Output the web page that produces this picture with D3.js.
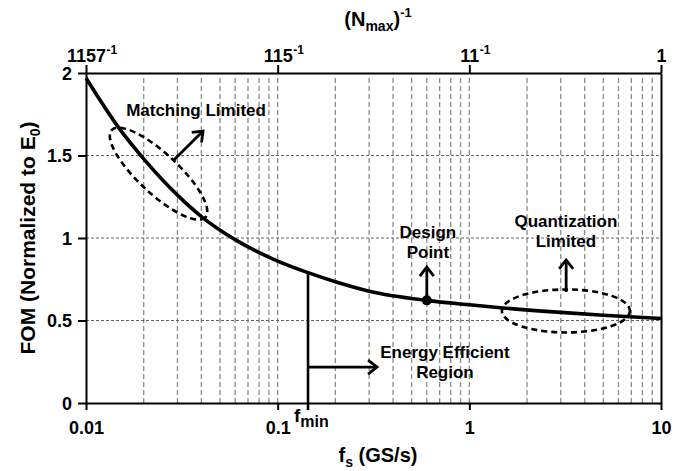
<!DOCTYPE html>
<html>
<head>
<meta charset="utf-8">
<script src="https://cdn.jsdelivr.net/npm/d3@7"></script>
<style>
  html, body { margin: 0; padding: 0; background: #fff; }
  svg text { font-family: "Liberation Sans", Arial, sans-serif; font-weight: bold; fill: #000; }
</style>
</head>
<body>
<svg id="chart" width="693" height="471"></svg>
<script>
// FOM (normalized to E0) versus sampling rate fs (GS/s)
const fsValues  = [0.01, 0.015, 0.02, 0.03, 0.04, 0.06, 0.1, 0.144, 0.2, 0.3, 0.6, 1, 1.5, 3, 5, 10];
const fomValues = [1.97, 1.66, 1.48, 1.26, 1.13, 0.99, 0.86, 0.79, 0.735, 0.678, 0.622, 0.595, 0.576, 0.549, 0.532, 0.512];

const xTicks = [0.01, 0.1, 1, 10];
const xTickLabels = ["0.01", "0.1", "1", "10"];
const topTickBases = ["1157", "115", "11", "1"];
const topTickExps = ["-1", "-1", "-1", ""];
const yTicks = [0, 0.5, 1, 1.5, 2];
const yTickLabels = ["0", "0.5", "1", "1.5", "2"];
const minorMultipliers = [2, 3, 4, 5, 6, 7, 8, 9];
const yGrid = [0.5, 1, 1.5];

// design point and minimum usable sampling rate
const designFs = 0.6, designFom = 0.622;
const fMin = 0.144, fomAtFMin = 0.79;

const svg = d3.select("#chart");
const plotLeft = 86, plotRight = 661, plotTop = 73, plotBottom = 403;

const x = d3.scaleLog().domain([0.01, 10]).range([plotLeft, plotRight]);
const y = d3.scaleLinear().domain([0, 2]).range([plotBottom, plotTop]);

// vertical log grid: 2..9 in every decade, plus the inner decade lines
const vGrid = [];
[0.01, 0.1, 1].forEach(d => minorMultipliers.forEach(m => vGrid.push(d * m)));
vGrid.push(0.1, 1);

svg.append("g").selectAll("line").data(vGrid).join("line")
  .attr("x1", d => x(d)).attr("x2", d => x(d))
  .attr("y1", plotBottom).attr("y2", plotTop + 4)
  .attr("stroke", "#8a8a8a").attr("stroke-width", 1.3)
  .attr("stroke-dasharray", "5,3");

svg.append("g").selectAll("line").data(yGrid).join("line")
  .attr("x1", plotLeft).attr("x2", plotRight)
  .attr("y1", d => y(d)).attr("y2", d => y(d))
  .attr("stroke", "#666").attr("stroke-width", 1)
  .attr("stroke-dasharray", "3,2");

// fmin marker line from the axis up to the curve
svg.append("line")
  .attr("x1", x(fMin)).attr("x2", x(fMin))
  .attr("y1", plotBottom + 7).attr("y2", y(fomAtFMin))
  .attr("stroke", "#000").attr("stroke-width", 2.6);

// FOM curve
const line = d3.line()
  .x((d, i) => x(fsValues[i]))
  .y(d => y(d))
  .curve(d3.curveMonotoneX);
svg.append("path").datum(fomValues)
  .attr("d", line)
  .attr("fill", "none").attr("stroke", "#000").attr("stroke-width", 3.6);

// design point
svg.append("circle")
  .attr("cx", x(designFs)).attr("cy", y(designFom)).attr("r", 5)
  .attr("fill", "#000");

// dashed ellipses around the limited regions
function ellipse(fs, fom, rx, ry, angle) {
  svg.append("ellipse")
    .attr("transform", `translate(${x(fs)},${y(fom)}) rotate(${angle})`)
    .attr("rx", rx).attr("ry", ry)
    .attr("fill", "none").attr("stroke", "#000")
    .attr("stroke-width", 2.6).attr("stroke-dasharray", "6,4");
}
ellipse(0.0239, 1.39, 64, 20, 43);
ellipse(3.19, 0.558, 64, 21.5, 0);

// arrows with open heads
function arrow(fs1, fom1, fs2, fom2) {
  const x1 = x(fs1), y1 = y(fom1), x2 = x(fs2), y2 = y(fom2);
  const a = Math.atan2(y2 - y1, x2 - x1);
  const len = 9, half = 7;
  const bx = x2 - len * Math.cos(a), by = y2 - len * Math.sin(a);
  const px = -Math.sin(a) * half, py = Math.cos(a) * half;
  svg.append("line").attr("x1", x1).attr("y1", y1).attr("x2", x2).attr("y2", y2)
    .attr("stroke", "#000").attr("stroke-width", 2.8);
  svg.append("polyline")
    .attr("points", `${bx + px},${by + py} ${x2},${y2} ${bx - px},${by - py}`)
    .attr("fill", "none").attr("stroke", "#000").attr("stroke-width", 2.8)
    .attr("stroke-linejoin", "miter");
}
arrow(0.0284, 1.467, 0.0408, 1.648);
arrow(designFs, designFom, designFs, 0.824);
arrow(3.2, 0.673, 3.2, 0.867);
arrow(fMin, 0.218, 0.33, 0.218);

// axes
const axisStyle = g => {
  g.select(".domain").attr("stroke", "#000").attr("stroke-width", 2);
  g.selectAll(".tick line").attr("stroke", "#000").attr("stroke-width", 2);
  g.selectAll(".tick text").attr("font-size", 18).attr("fill", "#000");
};

svg.append("g").attr("transform", `translate(0,${plotBottom})`)
  .call(d3.axisBottom(x).tickValues(xTicks).tickSize(7).tickSizeOuter(0)
    .tickFormat((d, i) => xTickLabels[i]))
  .call(axisStyle)
  .call(g => g.selectAll(".tick text").attr("y", 31).attr("dy", 0));

svg.append("g").attr("transform", `translate(${plotLeft},0)`)
  .call(d3.axisLeft(y).tickValues(yTicks).tickSize(8).tickSizeOuter(0)
    .tickFormat((d, i) => yTickLabels[i]))
  .call(axisStyle)
  .call(g => g.selectAll(".tick text").attr("x", -14).attr("dy", "0.36em"));

svg.append("g").attr("transform", `translate(${plotRight},0)`)
  .call(d3.axisRight(y).tickValues([]).tickSizeOuter(0))
  .call(axisStyle);

const topAxis = svg.append("g").attr("transform", `translate(0,${plotTop})`)
  .call(d3.axisTop(x).tickValues(xTicks).tickSize(8).tickSizeOuter(0)
    .tickFormat((d, i) => topTickBases[i]))
  .call(axisStyle)
  .call(g => g.selectAll(".tick text").attr("y", -11).attr("dy", 0));

// exponents on the top tick labels
topAxis.selectAll(".tick").each(function (d, i) {
  if (!topTickExps[i]) return;
  const t = d3.select(this).select("text");
  const w = t.node().getComputedTextLength();
  d3.select(this).append("text")
    .attr("x", w / 2 + 0.5).attr("y", -19)
    .attr("text-anchor", "start")
    .attr("font-size", 12).attr("fill", "#000")
    .text(topTickExps[i]);
});

// fmin label
const fminLabel = svg.append("text")
  .attr("x", x(fMin) - 14).attr("y", 422).attr("font-size", 19);
fminLabel.append("tspan").text("f");
fminLabel.append("tspan").attr("font-size", 16).attr("dy", 5).text("min");

// axis titles
const topTitle = svg.append("text")
  .attr("x", 378).attr("y", 26).attr("text-anchor", "middle").attr("font-size", 20);
topTitle.append("tspan").text("(N");
topTitle.append("tspan").attr("font-size", 14).attr("dy", 5).text("max");
topTitle.append("tspan").attr("dy", -5).text(")");
topTitle.append("tspan").attr("font-size", 13).attr("dy", -9).text("-1");

const xTitle = svg.append("text")
  .attr("x", 378).attr("y", 462).attr("text-anchor", "middle").attr("font-size", 20);
xTitle.append("tspan").text("f");
xTitle.append("tspan").attr("font-size", 14).attr("dy", 5).text("s");
xTitle.append("tspan").attr("dy", -5).text(" (GS/s)");

const yTitle = svg.append("text")
  .attr("transform", `translate(35,${(plotTop + plotBottom) / 2}) rotate(-90)`)
  .attr("text-anchor", "middle").attr("font-size", 21);
yTitle.append("tspan").text("FOM (Normalized to E");
yTitle.append("tspan").attr("font-size", 14).attr("dy", 5).text("0");
yTitle.append("tspan").attr("dy", -5).text(")");

// region annotations
function label(fs, fom, lines) {
  const t = svg.append("text").attr("text-anchor", "middle").attr("font-size", 17);
  lines.forEach((s, i) => {
    t.append("tspan").attr("x", x(fs)).attr("y", y(fom) + i * 20).text(s);
  });
}
label(0.0375, 1.74, ["Matching Limited"]);
label(0.608, 1.0, ["Design", "Point"]);
label(3.19, 1.067, ["Quantization", "Limited"]);
label(0.746, 0.273, ["Energy Efficient", "Region"]);
</script>
</body>
</html>
